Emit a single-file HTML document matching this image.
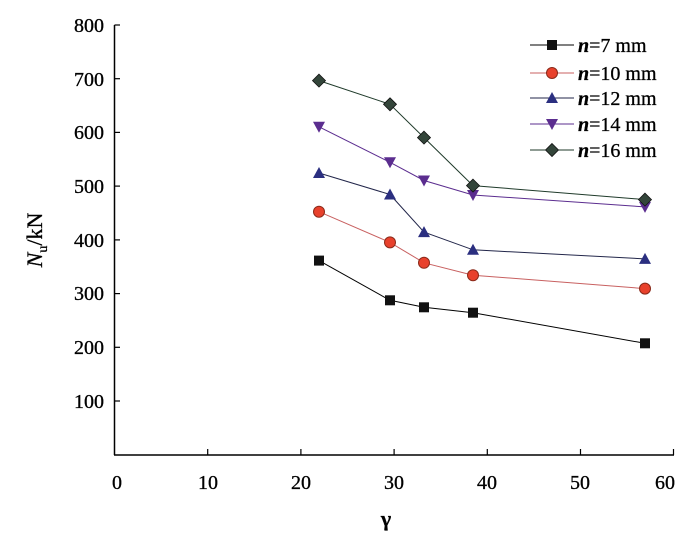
<!DOCTYPE html>
<html><head><meta charset="utf-8"><style>body{margin:0;background:#fff}</style></head><body>
<svg width="700" height="551" xmlns="http://www.w3.org/2000/svg" font-family="Liberation Serif, serif">
<g stroke="#000" stroke-width="1.5" fill="none">
<line x1="114.5" y1="25" x2="114.5" y2="455"/>
<line x1="114" y1="455" x2="674" y2="455"/>
</g>
<g stroke="#000" stroke-width="1.2">
<line x1="114.5" y1="25" x2="120" y2="25"/><line x1="114.5" y1="78.7" x2="120" y2="78.7"/>
<line x1="114.5" y1="132.4" x2="120" y2="132.4"/><line x1="114.5" y1="186.1" x2="120" y2="186.1"/>
<line x1="114.5" y1="239.9" x2="120" y2="239.9"/><line x1="114.5" y1="293.6" x2="120" y2="293.6"/>
<line x1="114.5" y1="347.3" x2="120" y2="347.3"/><line x1="114.5" y1="401" x2="120" y2="401"/>
<line x1="207.7" y1="455" x2="207.7" y2="449"/><line x1="300.9" y1="455" x2="300.9" y2="449"/>
<line x1="394.1" y1="455" x2="394.1" y2="449"/><line x1="487.3" y1="455" x2="487.3" y2="449"/>
<line x1="580.5" y1="455" x2="580.5" y2="449"/><line x1="673.5" y1="455" x2="673.5" y2="449"/>
</g>
<g font-size="20" text-anchor="end" fill="#000" stroke="#000" stroke-width="0.3">
<text x="104" y="32">800</text><text x="104" y="86">700</text><text x="104" y="139">600</text>
<text x="104" y="193">500</text><text x="104" y="247">400</text><text x="104" y="300">300</text>
<text x="104" y="354">200</text><text x="104" y="408">100</text>
</g>
<g font-size="20" text-anchor="middle" fill="#000" stroke="#000" stroke-width="0.3">
<text x="117" y="489">0</text><text x="208" y="489">10</text><text x="301" y="489">20</text>
<text x="394" y="489">30</text><text x="487" y="489">40</text><text x="580" y="489">50</text><text x="665" y="489">60</text>
<text x="386" y="526" font-size="22" font-weight="bold">γ</text>
</g>
<text transform="translate(42,240) rotate(-90)" font-size="22" text-anchor="middle" stroke="#000" stroke-width="0.3"><tspan font-style="italic">N</tspan><tspan font-size="14" dy="5">u</tspan><tspan dy="-5">/kN</tspan></text>
<defs>
<rect id="sq" x="-5" y="-5" width="10" height="10" fill="#111"/>
<circle id="ci" r="5.5" fill="#e8412c" stroke="#8a2a1a" stroke-width="1"/>
<path id="tu" d="M0,-6 L6,5 L-6,5Z" fill="#2b2f80"/>
<path id="td" d="M0,6 L6,-5 L-6,-5Z" fill="#5b2d8f"/>
<path id="di" d="M0,-6.5 L6.5,0 L0,6.5 L-6.5,0Z" fill="#33453a" stroke="#111" stroke-width="0.8"/>
</defs>
<polyline fill="none" stroke="#000" stroke-width="1" points="319,260.6 390,300.3 424,307.3 473,312.7 645,343.3"/>
<polyline fill="none" stroke="#c86060" stroke-width="1" points="319,211.7 390,242.4 424,262.8 473,275.2 645,288.6"/>
<polyline fill="none" stroke="#22264a" stroke-width="1" points="319,173 390,194.5 424,232.1 473,249.8 645,258.9"/>
<polyline fill="none" stroke="#5b2d8f" stroke-width="1" points="319,126.8 390,162.3 424,180.5 473,195 645,206.9"/>
<polyline fill="none" stroke="#1f3a2a" stroke-width="1" points="319,80.6 390,104.3 424,137.6 473,185.6 645,199.6"/>
<g><use href="#sq" x="319" y="260.6"/><use href="#sq" x="390" y="300.3"/><use href="#sq" x="424" y="307.3"/><use href="#sq" x="473" y="312.7"/><use href="#sq" x="645" y="343.3"/></g>
<g><use href="#ci" x="319" y="211.7"/><use href="#ci" x="390" y="242.4"/><use href="#ci" x="424" y="262.8"/><use href="#ci" x="473" y="275.2"/><use href="#ci" x="645" y="288.6"/></g>
<g><use href="#tu" x="319" y="173"/><use href="#tu" x="390" y="194.5"/><use href="#tu" x="424" y="232.1"/><use href="#tu" x="473" y="249.8"/><use href="#tu" x="645" y="258.9"/></g>
<g><use href="#td" x="319" y="126.8"/><use href="#td" x="390" y="162.3"/><use href="#td" x="424" y="180.5"/><use href="#td" x="473" y="195"/><use href="#td" x="645" y="206.9"/></g>
<g><use href="#di" x="319" y="80.6"/><use href="#di" x="390" y="104.3"/><use href="#di" x="424" y="137.6"/><use href="#di" x="473" y="185.6"/><use href="#di" x="645" y="199.6"/></g>
<g stroke-width="1">
<line x1="530" y1="45" x2="574" y2="45" stroke="#000"/><use href="#sq" x="552" y="45"/>
<line x1="530" y1="73" x2="574" y2="73" stroke="#c86060"/><use href="#ci" x="552" y="73"/>
<line x1="530" y1="98" x2="574" y2="98" stroke="#22264a"/><use href="#tu" x="552" y="98"/>
<line x1="530" y1="124" x2="574" y2="124" stroke="#5b2d8f"/><use href="#td" x="552" y="124"/>
<line x1="530" y1="150" x2="574" y2="150" stroke="#1f3a2a"/><use href="#di" x="552" y="150"/>
</g>
<g font-size="20" fill="#000" stroke="#000" stroke-width="0.3">
<text x="578" y="52"><tspan font-style="italic" font-weight="bold">n</tspan>=7 mm</text>
<text x="578" y="80"><tspan font-style="italic" font-weight="bold">n</tspan>=10 mm</text>
<text x="578" y="105"><tspan font-style="italic" font-weight="bold">n</tspan>=12 mm</text>
<text x="578" y="131"><tspan font-style="italic" font-weight="bold">n</tspan>=14 mm</text>
<text x="578" y="157"><tspan font-style="italic" font-weight="bold">n</tspan>=16 mm</text>
</g>
</svg>
</body></html>
